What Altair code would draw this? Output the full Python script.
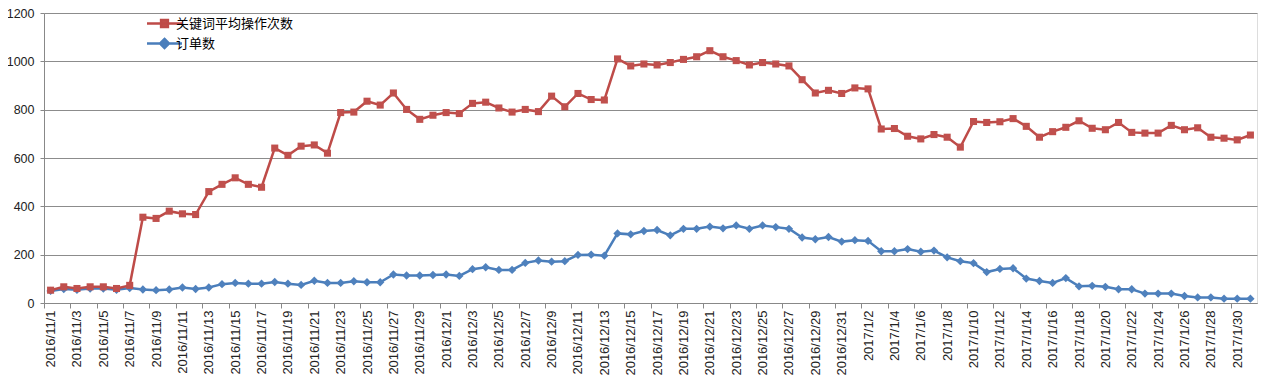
import altair as alt
import pandas as pd

dates = ([f"2016/11/{d}" for d in range(1, 31)]
         + [f"2016/12/{d}" for d in range(1, 32)]
         + [f"2017/1/{d}" for d in range(1, 32)])

red_name = "关键词平均操作次数"
blue_name = "订单数"

red_vals = [53, 67, 60, 67, 67, 60, 73, 355, 350, 380, 369, 366, 461, 491, 518, 491, 479, 641, 611, 649, 654, 620,
            788, 790, 835, 819, 869, 801, 760, 777, 788, 784, 826, 831, 807, 790, 801, 792, 856, 812, 867, 842, 840, 1010,
            981, 989, 985, 995, 1008, 1019, 1044, 1019, 1003, 985, 995, 989, 981, 924, 869, 880, 867, 890, 886,
            720, 722, 690, 679, 697, 686, 645, 751, 747, 750, 763, 731, 686, 709, 727, 754, 723, 717, 747, 706, 703,
            703, 735, 717, 725, 686, 682, 675, 695]

blue_vals = [50, 58, 55, 60, 60, 55, 62,
             56, 53, 56, 64, 58, 64, 78, 83, 80, 80, 87, 80, 75, 92,
             83, 83, 90, 86, 86, 118, 114, 114, 116, 118, 112, 140, 148, 137, 137, 166, 176, 171, 173, 199, 200, 196, 288,
             284, 298, 302, 280, 307, 307, 316, 309, 321, 307, 321, 314, 307, 271, 264, 273, 254, 260, 257, 214, 214, 223, 212, 217,
             189, 173, 165, 128, 141, 144, 101, 91, 83, 103, 69, 71, 67, 57, 57, 39, 39, 39, 29, 23, 23, 18, 18, 18]

y_ticks = [0, 200, 400, 600, 800, 1000, 1200]

RED = "#C0504D"
BLUE = "#4F81BD"

df = pd.DataFrame({
    "date": dates * 2,
    "value": red_vals + blue_vals,
    "series": [red_name] * len(dates) + [blue_name] * len(dates),
})

W = 1213
H = 290
step = W / len(dates)

x_enc = alt.X("date:O", sort=dates,
              scale=alt.Scale(type="point", padding=0.5),
              axis=alt.Axis(title=None, values=dates[::2], labelAngle=-90, labelOverlap=False,
                            labelFont="Liberation Sans", labelFontSize=13, labelColor="#222",
                            tickOffset=-step / 2, labelOffset=step / 2, tickSize=5, labelPadding=2,
                            tickColor="#888", domainColor="#888", grid=False))
y_enc = alt.Y("value:Q",
              scale=alt.Scale(domain=[0, 1200], nice=False),
              axis=alt.Axis(title=None, values=y_ticks, format="d", labelFont="Liberation Sans",
                            labelFontSize=12.5, labelColor="#222", tickSize=4, labelPadding=6,
                            tickColor="#888", domainColor="#888", gridColor="#8c8c8c", gridWidth=1))

base = alt.Chart(df)

blue_line = base.transform_filter(alt.datum.series == blue_name).mark_line(strokeWidth=2.5).encode(
    x=x_enc, y=y_enc, color=alt.value("#4A7EBB"))
blue_pts = base.transform_filter(alt.datum.series == blue_name).mark_point(
    shape="diamond", filled=True, size=70, opacity=1).encode(x=x_enc, y=y_enc, color=alt.value(BLUE))
red_line = base.transform_filter(alt.datum.series == red_name).mark_line(strokeWidth=2.5).encode(
    x=x_enc, y=y_enc, color=alt.value("#BE4B48"))
red_pts = base.transform_filter(alt.datum.series == red_name).mark_point(
    shape="square", filled=True, size=50, opacity=1).encode(x=x_enc, y=y_enc, color=alt.value(RED))

leg = alt.Legend(orient="none", legendX=109, legendY=-1, title=None, symbolSize=400,
                 symbolStrokeWidth=2.5, symbolOpacity=1, labelFont="Noto Sans CJK SC", labelFontSize=13,
                 labelColor="#000", labelOffset=0, rowPadding=0, padding=0)
domain = [red_name, blue_name]
legend_layer = base.transform_filter("false").mark_point(filled=True, size=400, opacity=1).encode(
    x=x_enc, y=y_enc,
    fill=alt.Fill("series:N", scale=alt.Scale(domain=domain, range=[RED, BLUE]), legend=leg),
    stroke=alt.Stroke("series:N", scale=alt.Scale(domain=domain, range=["#BE4B48", "#4A7EBB"]), legend=leg),
    shape=alt.Shape("series:N", scale=alt.Scale(domain=domain, range=[
        "M-1.75,0H1.75M-0.34,-0.34H0.34V0.34H-0.34Z",
        "M-1.75,0H1.75M0,-0.45L0.45,0L0,0.45L-0.45,0Z"]), legend=leg),
)

chart = alt.layer(blue_line, blue_pts, red_line, red_pts, legend_layer).properties(
    width=W, height=H,
    autosize=alt.AutoSizeParams(type="none"),
    padding={"left": 36, "top": 5, "right": 6, "bottom": 72},
).configure_view(stroke=None).configure(background="white")

chart.save("out.html", embed_options={"renderer": "svg", "actions": False})
